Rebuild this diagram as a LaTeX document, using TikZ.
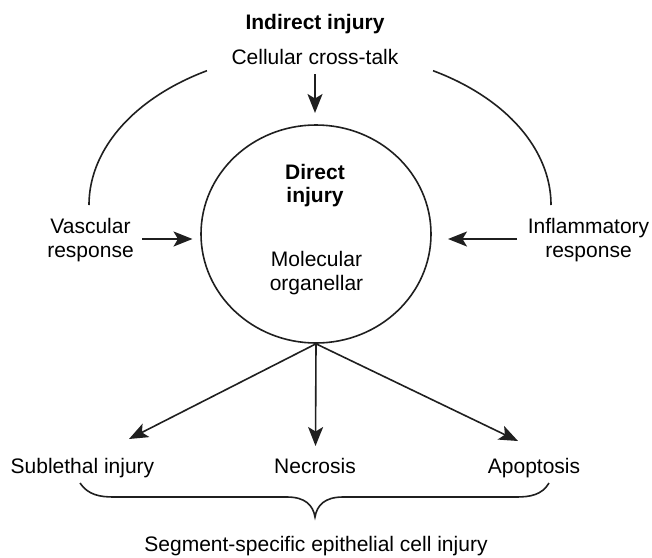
\documentclass[tikz,border=0pt]{standalone}
\usepackage{fontspec}
\setmainfont{Liberation Sans}
\usetikzlibrary{arrows.meta,shapes.geometric}
\begin{document}
\begin{tikzpicture}[x=1pt,y=-1pt,
  lbl/.style={inner sep=0pt,anchor=base,font=\fontsize{21}{24}\selectfont},
  bold lbl/.style={lbl,font=\fontsize{21}{24}\selectfont\bfseries},
  line/.style={line width=1.6pt,color=black!88},
  arr/.style={line,-{Stealth[length=19pt,width=15pt,inset=4.5pt]}},
  cell/.style={draw,line,ellipse,minimum width=230pt,minimum height=218pt,inner sep=0pt}]
\useasboundingbox (0,0) rectangle (652,557);

% headings
\node[bold lbl] (indirect) at (315,29.5) {Indirect injury};
\node[lbl] (crosstalk) at (315,64) {Cellular cross-talk};

% central cell
\node[cell] (direct) at (316,234) {};
\node[bold lbl] (dir1) at (315,179) {Direct};
\node[bold lbl] (dir2) at (315,202) {injury};
\node[lbl] (mol1) at (316.5,266) {Molecular};
\node[lbl] (mol2) at (316.5,290) {organellar};

% side influences
\node[lbl] (vasc1) at (90.5,233) {Vascular};
\node[lbl] (vasc2) at (90.5,257) {response};
\node[lbl] (infl1) at (588.5,233) {Inflammatory};
\node[lbl] (infl2) at (588.5,257) {response};

% outcomes
\node[lbl] (sub) at (82.5,473) {Sublethal injury};
\node[lbl] (nec) at (315,473) {Necrosis};
\node[lbl] (apo) at (534,473) {Apoptosis};
\node[lbl] (segment) at (316,551) {Segment-specific epithelial cell injury};

% arrow end points
\coordinate (ct-from) at (315,74);
\coordinate (ct-to) at (315,113);
\coordinate (vasc-from) at (142,239);
\coordinate (vasc-to) at (192.5,239);
\coordinate (infl-from) at (517,239);
\coordinate (infl-to) at (448,239);
\coordinate (sub-tip) at (129,439);
\coordinate (nec-tip) at (315.5,446);
\coordinate (apo-tip) at (518,441);

\draw[arr] (ct-from) -- (ct-to);
\draw[arr] (vasc-from) -- (vasc-to);
\draw[arr] (infl-from) -- (infl-to);
\draw[arr] (direct.south) -- (sub-tip);
\draw[arr] (direct.south) -- (nec-tip);
\draw[arr] (direct.south) -- (apo-tip);

% outer arcs of indirect injury
\draw[line] plot[domain=119.3:180,samples=60] ({320+231*cos(\x)},{205-154*sin(\x)});
\draw[line] plot[domain=0:60.7,samples=60] ({320+231*cos(\x)},{205-154*sin(\x)});

% brace gathering the outcomes
\coordinate (br-l) at (80,483);
\coordinate (br-r) at (549,483);
\coordinate (br-tip) at (315,517);
\draw[line] (br-l) .. controls (88,495) and (100,497) .. (114,497)
  -- (287,497) .. controls (305,497) and (313,505) .. (br-tip)
  .. controls (317,505) and (325,497) .. (343,497)
  -- (516,497) .. controls (530,497) and (542,495) .. (br-r);
\end{tikzpicture}
\end{document}
